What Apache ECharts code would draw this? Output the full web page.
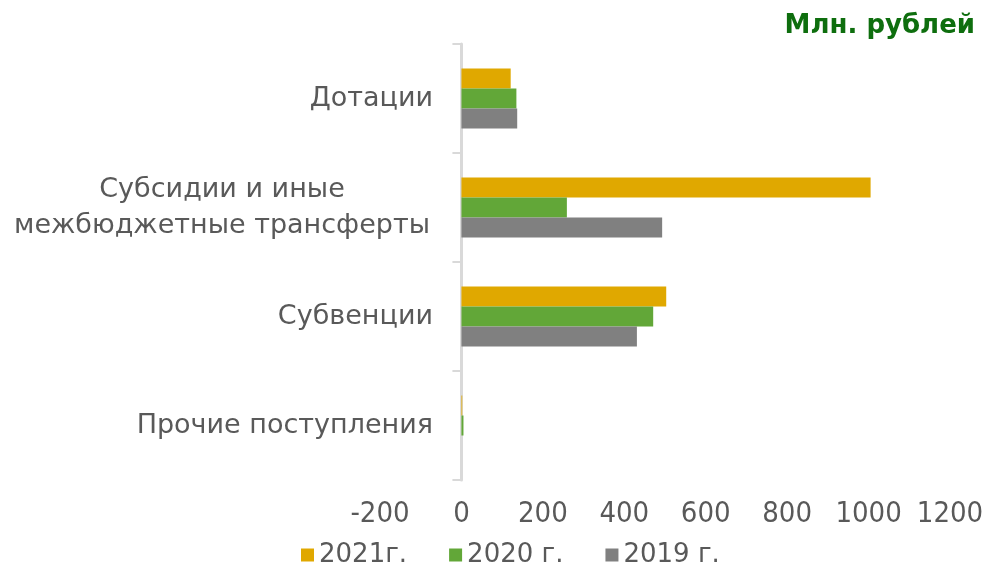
<!DOCTYPE html>
<html lang="ru">
<head>
    <meta charset="UTF-8">
    <title>Безвозмездные поступления</title>
    <script src="https://cdn.jsdelivr.net/npm/echarts@6/dist/echarts.min.js"></script>
    <style>
        html, body { margin: 0; padding: 0; background: #fff; }
        #chart { width: 986px; height: 569px; }
    </style>
</head>
<body>
<div id="chart"></div>
<script>
    // данные
    var categories = ['Дотации', 'Субсидии и иные\nмежбюджетные трансферты', 'Субвенции', 'Прочие поступления'];
    var seriesNames = ['2021г.', '2020 г.', '2019 г.'];
    var values2021 = [121, 1005, 503, 2];
    var values2020 = [135, 259, 471, 5];
    var values2019 = [137, 493, 431, 0];
    var ticksX = [-200, 0, 200, 400, 600, 800, 1000, 1200];
    var colors = ['#E0A800', '#62A738', '#808080'];

    var font = '"DejaVu Sans", sans-serif';
    var narrow = '"Liberation Sans Narrow", "DejaVu Sans Condensed", sans-serif';
    var myChart = echarts.init(document.getElementById('chart'));

    myChart.setOption({
        animation: false,
        title: {
            text: 'Млн. рублей',
            right: 6,
            top: 8,
            textStyle: { fontFamily: font, fontSize: 26, fontWeight: 'bold', color: '#0E6E0E' }
        },
        legend: {
            data: seriesNames,
            top: 537,
            left: 296,
            itemWidth: 13,
            itemHeight: 13,
            itemGap: 42,
            icon: 'rect',
            textStyle: { fontFamily: font, fontSize: 26, color: '#595959' }
        },
        grid: { left: 380, right: 36, top: 44, bottom: 89, outerBoundsMode: 'none', containLabel: false },
        xAxis: {
            type: 'value',
            min: ticksX[0],
            max: ticksX[ticksX.length - 1],
            interval: 200,
            axisLine: { show: false },
            axisTick: { show: false },
            splitLine: { show: false },
            axisLabel: {
                fontFamily: narrow, fontSize: 29, color: '#595959', margin: 20,
                formatter: function (v) { return String(v); }
            }
        },
        yAxis: {
            type: 'category',
            inverse: true,
            data: categories,
            axisLine: { show: true, onZero: true, lineStyle: { color: '#D9D9D9', width: 3 } },
            axisTick: { show: true, length: 9, lineStyle: { color: '#D9D9D9', width: 2 } },
            axisLabel: {
                fontFamily: font, fontSize: 27, color: '#595959', margin: -53, lineHeight: 36,
                formatter: function (v) {
                    if (v.indexOf('\n') < 0) return v;
                    return v.split('\n').map(function (s) { return '{m|' + s + '}'; }).join('\n');
                },
                rich: { m: { fontFamily: font, fontSize: 27, color: '#595959', width: 422, align: 'center', lineHeight: 36 } }
            }
        },
        series: [
            { name: seriesNames[0], type: 'bar', data: values2021, barWidth: 20, barGap: '0%', itemStyle: { color: colors[0] } },
            { name: seriesNames[1], type: 'bar', data: values2020, barWidth: 20, barGap: '0%', itemStyle: { color: colors[1] } },
            { name: seriesNames[2], type: 'bar', data: values2019, barWidth: 20, barGap: '0%', itemStyle: { color: colors[2] } }
        ]
    });
</script>
</body>
</html>
